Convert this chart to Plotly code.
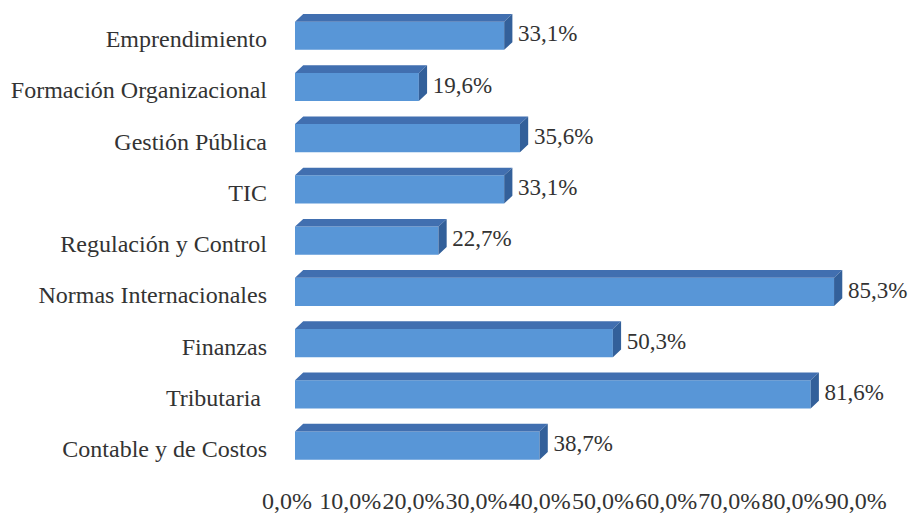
import plotly.graph_objects as go

# Data (top to bottom as in the chart)
categories = ["Emprendimiento", "Formación Organizacional", "Gestión Pública", "TIC",
              "Regulación y Control", "Normas Internacionales", "Finanzas",
              "Tributaria\u00a0", "Contable y de Costos"]
values = [33.1, 19.6, 35.6, 33.1, 22.7, 85.3, 50.3, 81.6, 38.7]
x_ticks = [0, 10, 20, 30, 40, 50, 60, 70, 80, 90]
x_tick_labels = ["0,0%", "10,0%", "20,0%", "30,0%", "40,0%",
                 "50,0%", "60,0%", "70,0%", "80,0%", "90,0%"]

n = len(categories)
ypos = [n - 1 - i for i in range(n)]

# 3D bar geometry (in data units)
half = 0.275     # half height of front face
dx = 1.3         # depth offset along x (percent units)
dy = 0.15        # depth offset along y (category units)
label_gap = 0.9  # gap between bar side and value label (percent units)

FRONT = "#5896D7"
TOP = "#416FB0"
SIDE = "#33609A"
TEXT = "#333333"
FONT = "Liberation Serif, Times New Roman, serif"

fig = go.Figure()

fig.add_trace(go.Bar(
    x=values, y=ypos, orientation="h", width=2 * half,
    marker=dict(color=FRONT, line=dict(width=0)),
    hoverinfo="skip", showlegend=False,
))

top_x, top_y, side_x, side_y = [], [], [], []
for v, c in zip(values, ypos):
    yt, yb = c + half, c - half
    top_x += [0, dx, v + dx, v, 0, None]
    top_y += [yt, yt + dy, yt + dy, yt, yt, None]
    side_x += [v, v, v + dx, v + dx, v, None]
    side_y += [yb, yt, yt + dy, yb + dy, yb, None]

fig.add_trace(go.Scatter(x=top_x, y=top_y, mode="lines", fill="toself",
                         fillcolor=TOP, line=dict(width=0, color=TOP),
                         hoverinfo="skip", showlegend=False))
fig.add_trace(go.Scatter(x=side_x, y=side_y, mode="lines", fill="toself",
                         fillcolor=SIDE, line=dict(width=0, color=SIDE),
                         hoverinfo="skip", showlegend=False))

fig.add_trace(go.Scatter(
    x=[v + dx + label_gap for v in values], y=ypos, mode="text",
    text=[v for v in values], texttemplate="%{text:.1f}%",
    textposition="middle right",
    textfont=dict(family=FONT, size=23, color=TEXT),
    cliponaxis=False, hoverinfo="skip", showlegend=False,
))

fig.update_layout(
    width=913, height=515,
    margin=dict(l=295, r=5, t=5, b=31),
    paper_bgcolor="white", plot_bgcolor="white",
    separators=",.",
    font=dict(family=FONT, size=24, color=TEXT),
    xaxis=dict(range=[0, 97], tickvals=x_ticks, ticktext=x_tick_labels,
               tickangle=0, showgrid=False, zeroline=False, showline=False,
               automargin=False, ticklabelshift=-8, ticklabelstandoff=0,
               tickfont=dict(family=FONT, size=24, color=TEXT)),
    yaxis=dict(range=[-0.75, 8.6], tickvals=ypos, ticktext=categories,
               showgrid=False, zeroline=False, showline=False,
               automargin=False, ticklabelstandoff=27, ticklabelshift=3,
               tickfont=dict(family=FONT, size=24, color=TEXT)),
)

fig.write_html(
    "out.html",
    config={"displayModeBar": False},
    post_script="document.body.style.margin='0';document.body.style.overflow='hidden';",
)
